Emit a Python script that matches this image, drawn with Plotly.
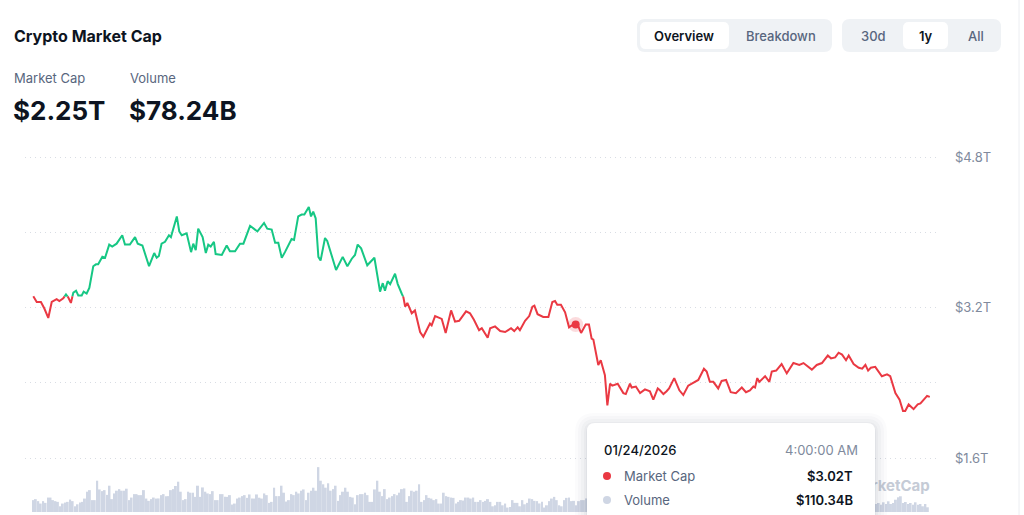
import plotly.graph_objects as go

# ---------------- data ----------------
days = [0, 1.4, 3.1, 4.5, 6.1, 7.5, 9.5, 10.6, 12.2, 13.3, 14.2, 15.3, 16.3, 17.4, 18.3, 19.7, 20.5, 21.7, 22.8,
        24.4, 25.5, 26.4, 28.1, 29.2, 30.9, 32.1, 33.9, 36.2, 37.3, 39.3, 41.4, 42.5, 44.4, 47.1, 49.2, 50.2,
        51.1, 52.2, 53.6, 55.2, 56.0, 58.4, 59.4, 60.4, 62.4, 64.2, 65.1, 66.1, 67.1, 68.9, 70.2, 71.2, 72.2,
        73.5, 74.2, 76.7, 78.7, 80.0, 82.1, 84.1, 85.5, 88.2, 91.2, 93.9, 95.2, 97.0, 98.4, 99.7, 101.1, 102.4,
        105.1, 106.1, 107.8, 109.2, 110.3, 112.1, 113.0, 113.9, 114.9, 116.0, 116.9, 118.7, 119.6, 123.2, 125.9,
        127.8, 129.6, 130.9, 132.0, 133.4, 135.9, 138.8, 141.1, 142.2, 143.1, 144.2, 145.2, 147.2, 148.3, 149.9,
        150.6, 151.3, 152.2, 154.0, 155.3, 157.4, 158.7, 161.4, 162.1, 163.5, 166.2, 167.8, 170.0, 171.6, 173.3,
        176.1, 177.7, 179.3, 181.4, 182.5, 184.9, 185.9, 187.9, 190.0, 192.0, 194.4, 195.7, 197.1, 198.0, 200.1,
        201.8, 203.1, 203.9, 205.2, 207.5, 209.6, 211.2, 212.3, 213.2, 214.7, 216.4, 218.0, 219.1, 220.7, 221.8,
        222.9, 224.8, 226.1, 227.2, 227.9, 229.3, 229.9, 230.9, 232.6, 233.6, 234.7, 235.6, 237.8, 240.1, 241.1,
        242.8, 243.5, 245.2, 246.9, 248.9, 250.9, 252.3, 254.1, 255.0, 256.4, 257.7, 258.7, 260.8, 262.9, 264.5,
        266.5, 270.6, 272.9, 274.0, 275.3, 276.7, 278.7, 280.1, 281.9, 283.8, 285.9, 288.3, 290.0, 291.6, 293.0,
        293.7, 294.6, 295.4, 297.8, 299.5, 300.5, 302.3, 304.5, 306.6, 309.3, 311.7, 313.4, 316.8, 318.8, 320.9,
        323.3, 324.6, 326.3, 327.7, 329.1, 330.7, 331.8, 333.8, 335.9, 337.3, 338.6, 339.7, 340.8, 342.6, 345.3,
        347.4, 348.7, 350.8, 352.5, 353.9, 354.8, 356.2, 358.2, 359.9, 361.0, 363.7, 364.8]

mcap_t = [3.32, 3.26, 3.26, 3.19, 3.09, 3.26, 3.29, 3.27, 3.30, 3.34, 3.31, 3.25, 3.36, 3.38, 3.33, 3.33, 3.37, 3.35, 3.41,
          3.64, 3.66, 3.66, 3.74, 3.73, 3.87, 3.85, 3.88, 3.97, 3.87, 3.87, 3.95, 3.88, 3.86, 3.64, 3.78, 3.73,
          3.75, 3.88, 3.90, 3.97, 3.95, 4.17, 4.01, 3.97, 3.99, 3.79, 3.88, 3.81, 4.04, 3.95, 3.78, 3.87, 3.85,
          3.90, 3.77, 3.76, 3.86, 3.80, 3.80, 3.88, 3.88, 4.07, 4.01, 4.10, 4.04, 4.03, 3.89, 3.89, 3.73, 3.79,
          3.93, 3.92, 4.17, 4.19, 4.19, 4.27, 4.17, 4.22, 4.15, 3.74, 3.70, 3.94, 3.91, 3.60, 3.74,
          3.64, 3.72, 3.76, 3.87, 3.83, 3.65, 3.73, 3.37, 3.46, 3.38, 3.48, 3.45, 3.56, 3.45, 3.35,
          3.31, 3.21, 3.25, 3.14, 3.17, 2.94, 2.89, 3.03, 3.01, 3.11, 3.08, 2.93, 3.17, 3.05, 3.06,
          3.16, 3.14, 3.07, 2.96, 2.98, 2.88, 2.98, 3.00, 2.95, 2.94, 2.98, 2.95, 2.99, 2.96, 3.06,
          3.11, 3.21, 3.22, 3.13, 3.10, 3.10, 3.26, 3.27, 3.23, 3.23, 3.15, 2.99, 3.01, 3.02, 3.00,
          2.93, 3.02, 3.02, 2.87, 2.86, 2.66, 2.59, 2.64, 2.48, 2.16, 2.39, 2.37, 2.39, 2.29, 2.28,
          2.39, 2.35, 2.36, 2.29, 2.33, 2.31, 2.22, 2.34, 2.32, 2.28, 2.31, 2.34, 2.45, 2.32, 2.27,
          2.37, 2.43, 2.55, 2.52, 2.41, 2.41, 2.34, 2.42, 2.43, 2.30, 2.29, 2.35, 2.30, 2.32, 2.36,
          2.35, 2.45, 2.41, 2.47, 2.41, 2.52, 2.53, 2.60, 2.50, 2.61, 2.59, 2.61, 2.54, 2.59, 2.61,
          2.69, 2.66, 2.67, 2.72, 2.70, 2.64, 2.69, 2.60, 2.56, 2.55, 2.59, 2.53, 2.56, 2.57, 2.47,
          2.49, 2.47, 2.29, 2.22, 2.10, 2.10, 2.17, 2.12, 2.17, 2.18, 2.26, 2.25]

volume_b_early = [83, 90, 76, 59, 76, 64, 101, 101, 83, 76,
                  71, 40, 59, 66, 71, 87, 76, 40, 54, 66,
                  71, 94, 142, 153, 83, 83, 219, 158, 146, 153,
                  120, 184, 90, 130, 149, 160, 149, 149, 163, 83, 101,
                  125, 125, 118, 118, 153, 94, 78, 90, 101, 94,
                  95, 118, 125, 111, 111, 153, 160, 182, 212, 142, 83,
                  90, 142, 135, 135, 106, 184, 106, 172, 142, 130,
                  125, 146, 83, 83, 125, 125, 106, 106, 118, 52,
                  59, 94, 101, 111, 118, 99, 123, 94, 94, 123,
                  100, 94, 130, 118, 64, 71, 170, 111, 111, 184, 135,
                  73, 83, 125, 118, 142, 130, 149, 158, 83, 135, 149,
                  170, 149, 314, 219, 194, 170, 201, 149, 160, 184,
                  78, 118, 142, 170, 142, 106, 101, 54, 118, 125,
                  125, 135, 118, 71, 71, 158, 219, 142, 111, 160,
                  90, 101, 111, 125, 118, 135, 160, 165, 71, 111, 149,
                  142, 149, 194, 71, 83, 118, 99, 94, 83, 90,
                  59, 59, 135, 111, 106, 101, 99, 59, 71, 83,
                  80, 101, 101, 94, 101, 71, 71, 83, 71, 78, 90,
                  71, 40, 47, 71, 71, 47, 59, 31, 35, 83,
                  64, 64, 40, 83, 54, 64, 94, 90, 78, 76,
                  60, 71, 31, 47, 76, 94, 106, 83, 47, 40, 83,
                  99, 101, 76, 78, 47, 76, 83, 83]

volume_b_mid = [95, 88, 110, 102, 76, 84, 120, 135, 98, 90,
                105, 118, 142, 160, 128, 96, 88, 80, 92, 110,
                124, 150, 210, 245, 180, 140, 118, 102, 96, 88,
                84, 92, 105, 112, 98, 86, 80, 76, 88, 95,
                102, 118, 126, 110, 96, 90, 84, 78, 72, 80,
                88, 96, 104, 98, 90, 84, 76, 70, 74, 82,
                90, 98, 110, 122, 108, 96, 88, 80, 76, 72,
                78, 86, 94, 102, 96, 88, 82, 76, 70, 66,
                72, 80, 88, 96, 90, 84, 78, 72, 68, 64,
                70, 78, 86, 94, 110, 104, 96, 88, 80, 74,
                68, 64, 70, 76, 84, 92, 88, 82, 76, 70,
                66, 62, 68, 74, 80, 86, 78, 72]

volume_b_late = [56, 63, 51, 68, 56, 75, 56, 63, 86, 103, 110, 63, 70, 56, 63, 51, 68, 51, 56, 40, 56, 33]

ytick_vals = [1.6, 3.2, 4.8]
ytick_text = ["$1.6T", "$3.2T", "$4.8T"]
ygrid_minor = [2.4, 4.0]

hover_day = 220.7
tooltip_date = "01/24/2026"
tooltip_time = "4:00:00 AM"
tooltip_mcap = "$3.02T"
tooltip_vol = "$110.34B"
head_mcap = "$2.25T"
head_vol = "$78.24B"
watermark_visible = "rketCap"   # the rest of "CoinMarketCap" is hidden behind the tooltip

GREEN = "#16c784"
RED = "#ea3943"
BAR = "#cfd6e4"
DARK = "#0d1421"
GRAY = "#58667e"
AXIS = "#808a9d"
GRID = "#d9dde4"
FONT = "Inter"

# ---------------- geometry ----------------
W, H = 1024, 515
ML, MR, MT, MB = 25, 87, 140, 3
PW = W - ML - MR
PH = H - MT - MB


def px(x):
    return (x - ML) / PW


def py(y):
    return (H - MB - y) / PH


def P(x, y):
    return f"{px(x):.5f},{py(y):.5f}"


def rrect(x0, y0, x1, y1, r):
    return (f"M{P(x0 + r, y0)} L{P(x1 - r, y0)} Q{P(x1, y0)} {P(x1, y0 + r)} "
            f"L{P(x1, y1 - r)} Q{P(x1, y1)} {P(x1 - r, y1)} L{P(x0 + r, y1)} "
            f"Q{P(x0, y1)} {P(x0, y1 - r)} L{P(x0, y0 + r)} Q{P(x0, y0)} {P(x0 + r, y0)} Z")


def txt(x, y, s, size=13, color=GRAY, weight=400, anchor="left"):
    return dict(x=px(x), y=py(y), xref="paper", yref="paper", text=s, showarrow=False,
                xanchor=anchor, yanchor="middle",
                font=dict(family=FONT, size=size, color=color, weight=weight))


# ---------------- line split by baseline ----------------
base = mcap_t[0]
xs, ys = [days[0]], [mcap_t[0]]
for i in range(1, len(days)):
    x0, y0, x1, y1 = days[i - 1], mcap_t[i - 1], days[i], mcap_t[i]
    if (y0 - base) * (y1 - base) < 0:
        t = (base - y0) / (y1 - y0)
        xs.append(x0 + t * (x1 - x0))
        ys.append(base)
    xs.append(x1)
    ys.append(y1)
up = [y if y >= base else None for y in ys]
dn = [y if y <= base else None for y in ys]

volume = volume_b_early + volume_b_mid + volume_b_late
vol_x = list(range(len(volume)))

fig = go.Figure()
fig.add_trace(go.Bar(x=vol_x, y=volume, yaxis="y2", marker=dict(color=BAR, line=dict(width=0)),
                     hoverinfo="skip"))
fig.add_trace(go.Scatter(x=[days[-1]], y=[1.29], mode="text", text=[watermark_visible],
                         textposition="middle left",
                         textfont=dict(family=FONT, size=15, color="#c5cbd6", weight=700),
                         hoverinfo="skip"))
fig.add_trace(go.Scatter(x=xs, y=dn, mode="lines", line=dict(color=RED, width=2), hoverinfo="skip"))
fig.add_trace(go.Scatter(x=xs, y=up, mode="lines", line=dict(color=GREEN, width=2), hoverinfo="skip"))
hi = days.index(hover_day)
fig.add_trace(go.Scatter(x=[days[hi]], y=[mcap_t[hi]], mode="markers",
                         marker=dict(size=15, color="rgba(234,57,67,0.18)"), hoverinfo="skip"))
fig.add_trace(go.Scatter(x=[days[hi]], y=[mcap_t[hi]], mode="markers",
                         marker=dict(size=8, color=RED), hoverinfo="skip"))

shapes = []
# buttons
shapes.append(dict(type="path", path=rrect(637, 19, 832, 52, 8), xref="paper", yref="paper",
                   fillcolor="#eff2f5", line=dict(width=0)))
shapes.append(dict(type="path", path=rrect(640, 22, 729, 49, 6), xref="paper", yref="paper",
                   fillcolor="#ffffff", line=dict(width=0)))
shapes.append(dict(type="path", path=rrect(842, 19, 1001, 52, 8), xref="paper", yref="paper",
                   fillcolor="#eff2f5", line=dict(width=0)))
shapes.append(dict(type="path", path=rrect(903, 22, 948, 49, 6), xref="paper", yref="paper",
                   fillcolor="#ffffff", line=dict(width=0)))
# right edge line
shapes.append(dict(type="line", x0=px(1019), x1=px(1019), y0=py(0), y1=py(515), xref="paper", yref="paper",
                   line=dict(color="#eceef2", width=1)))
# tooltip shadow + box
for k, a in [(12, 0.025), (9, 0.03), (6, 0.035), (3, 0.045), (1, 0.06)]:
    shapes.append(dict(type="path", path=rrect(587 - k, 423 - k + 2, 875 + k, 530 + k, 8 + k),
                       xref="paper", yref="paper", fillcolor=f"rgba(88,102,126,{a})",
                       line=dict(width=0), layer="above"))
shapes.append(dict(type="path", path=rrect(587, 423, 875, 530, 8), xref="paper", yref="paper",
                   fillcolor="#ffffff", line=dict(width=0), layer="above"))
shapes.append(dict(type="circle", x0=px(603), x1=px(611), y0=py(472), y1=py(480), xref="paper", yref="paper",
                   fillcolor=RED, line=dict(width=0), layer="above"))
shapes.append(dict(type="circle", x0=px(603), x1=px(611), y0=py(496), y1=py(504), xref="paper", yref="paper",
                   fillcolor=BAR, line=dict(width=0), layer="above"))

annotations = [
    txt(12, 36, "Crypto Market Cap", size=16, color=DARK, weight=700),
    txt(12, 78, "Market Cap", size=13, color=GRAY),
    txt(128, 78, "Volume", size=13, color=GRAY),
    txt(11, 110, head_mcap, size=26, color=DARK, weight=700),
    txt(127, 110, head_vol, size=26, color=DARK, weight=700),
    txt(684, 36, "Overview", size=13, color=DARK, weight=600, anchor="center"),
    txt(781, 36, "Breakdown", size=13, color=GRAY, weight=500, anchor="center"),
    txt(873, 36, "30d", size=13, color=GRAY, weight=500, anchor="center"),
    txt(926, 36, "1y", size=13, color=DARK, weight=600, anchor="center"),
    txt(976, 36, "All", size=13, color=GRAY, weight=500, anchor="center"),
    txt(602, 450, tooltip_date, size=13, color=DARK, weight=500),
    txt(860, 450, tooltip_time, size=13, color=AXIS, anchor="right"),
    txt(622, 476, "Market Cap", size=13, color=GRAY),
    txt(855, 476, tooltip_mcap, size=13, color=DARK, weight=600, anchor="right"),
    txt(622, 500, "Volume", size=13, color=GRAY),
    txt(855, 500, tooltip_vol, size=13, color=DARK, weight=600, anchor="right"),
]

y_lo = 1.6 - 54 / 94
y_hi = 1.6 + 318 / 94
x_lo = (ML - 33.3) / 2.4575
x_hi = (W - MR - 33.3) / 2.4575

fig.update_layout(
    width=W, height=H, autosize=False,
    margin=dict(l=ML, r=MR, t=MT, b=MB, pad=0),
    paper_bgcolor="#ffffff", plot_bgcolor="#ffffff",
    showlegend=False, hovermode=False, bargap=0.2,
    xaxis=dict(range=[x_lo, x_hi], visible=False, fixedrange=True),
    yaxis=dict(range=[y_lo, y_hi], side="right", tickvals=ytick_vals, ticktext=ytick_text,
               showgrid=True, gridcolor=GRID, griddash="1px,4px", gridwidth=1,
               zeroline=False, showline=False, ticks="", ticklabelstandoff=17,
               tickfont=dict(family=FONT, size=13, color=AXIS),
               minor=dict(tickvals=ygrid_minor, showgrid=True, gridcolor=GRID, griddash="1px,4px",
                          gridwidth=1, ticks="")),
    yaxis2=dict(range=[0, 372 * 7], overlaying="y", visible=False, fixedrange=True),
    shapes=shapes, annotations=annotations,
    font=dict(family=FONT),
)

fig.write_html("out.html")
